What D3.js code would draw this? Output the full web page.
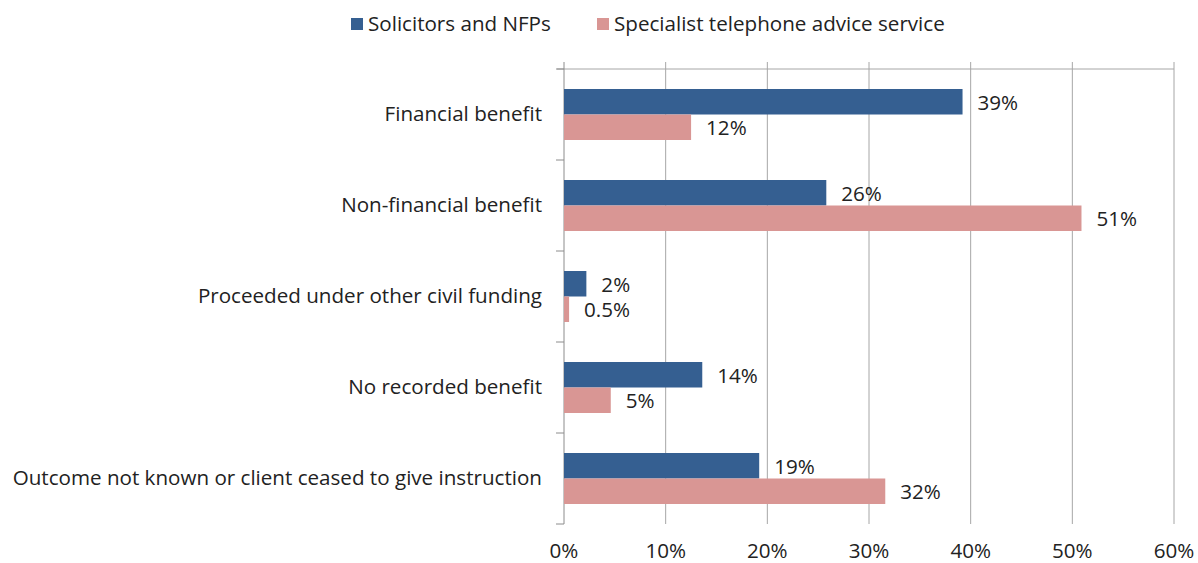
<!DOCTYPE html>
<html>
<head>
<meta charset="utf-8">
<script src="https://cdn.jsdelivr.net/npm/d3@7"></script>
<style>
  body { margin: 0; background: #fff; }
  svg text { font-family: "Open Sans", sans-serif; fill: #222; }
</style>
</head>
<body>
<svg id="chart" width="1198" height="563"></svg>
<script>
var categories = [
  "Financial benefit",
  "Non-financial benefit",
  "Proceeded under other civil funding",
  "No recorded benefit",
  "Outcome not known or client ceased to give instruction"
];
var seriesNames = ["Solicitors and NFPs", "Specialist telephone advice service"];
var solicitors = [39.2, 25.8, 2.2, 13.6, 19.2];
var telephone = [12.5, 50.9, 0.5, 4.6, 31.6];
var solicitorsLabels = ["39%", "26%", "2%", "14%", "19%"];
var telephoneLabels = ["12%", "51%", "0.5%", "5%", "32%"];
var xTicks = [0, 10, 20, 30, 40, 50, 60];

var colors = ["#355f91", "#d99694"];
var fontSize = 20.6;

var svg = d3.select("#chart");
var plotLeft = 564, plotRight = 1174, plotTop = 69, plotBottom = 524;

var x = d3.scaleLinear().domain([0, 60]).range([plotLeft, plotRight]);
var y = d3.scaleBand().domain(categories).range([plotTop, plotBottom]);
var inner = d3.scaleBand().domain([0, 1]).range([0, 51]);

// gridlines
svg.append("g").selectAll("line")
  .data(xTicks.slice(1))
  .enter().append("line")
  .attr("x1", function (d) { return x(d); })
  .attr("x2", function (d) { return x(d); })
  .attr("y1", plotTop - 7).attr("y2", plotBottom)
  .attr("stroke", "#a6a6a6").attr("stroke-width", 1);

// top line
svg.append("line")
  .attr("x1", plotLeft - 7).attr("x2", plotRight)
  .attr("y1", plotTop).attr("y2", plotTop)
  .attr("stroke", "#a6a6a6");

// category axis
var yAxis = svg.append("g")
  .attr("transform", "translate(" + plotLeft + ",0)");
yAxis.append("line")
  .attr("x1", 0).attr("x2", 0).attr("y1", plotTop - 7).attr("y2", plotBottom)
  .attr("stroke", "#8c8c8c");
yAxis.selectAll(".tk")
  .data(d3.range(categories.length + 1))
  .enter().append("line")
  .attr("x1", -8).attr("x2", 0)
  .attr("y1", function (i) { return plotTop + i * y.step(); })
  .attr("y2", function (i) { return plotTop + i * y.step(); })
  .attr("stroke", "#8c8c8c");

svg.append("g").selectAll("text")
  .data(categories)
  .enter().append("text")
  .attr("x", plotLeft - 22)
  .attr("y", function (d) { return y(d) + y.bandwidth() / 2 - 1; })
  .attr("dy", "0.35em")
  .attr("text-anchor", "end")
  .style("font-size", fontSize + "px")
  .text(function (d) { return d; });

// x tick labels
svg.append("g").selectAll("text")
  .data(xTicks)
  .enter().append("text")
  .attr("x", function (d) { return x(d); })
  .attr("y", plotBottom + 27)
  .attr("dy", "0.35em")
  .attr("text-anchor", "middle")
  .style("font-size", fontSize + "px")
  .text(function (d) { return d + "%"; });

// bars
var series = [solicitors, telephone];
var labels = [solicitorsLabels, telephoneLabels];
series.forEach(function (vals, s) {
  var g = svg.append("g");
  var off = (y.bandwidth() - 51) / 2 + inner(s);
  g.selectAll("rect")
    .data(vals)
    .enter().append("rect")
    .attr("x", x(0))
    .attr("y", function (d, i) { return y(categories[i]) + off; })
    .attr("width", function (d) { return x(d) - x(0); })
    .attr("height", inner.bandwidth())
    .attr("fill", colors[s]);
  g.selectAll("text")
    .data(vals)
    .enter().append("text")
    .attr("x", function (d) { return x(d) + 15; })
    .attr("y", function (d, i) { return y(categories[i]) + off + inner.bandwidth() / 2 + 1; })
    .attr("dy", "0.35em")
    .style("font-size", fontSize + "px")
    .text(function (d, i) { return labels[s][i]; });
});

// legend
var legendX = [351, 597];
var legend = svg.append("g");
seriesNames.forEach(function (name, s) {
  legend.append("rect")
    .attr("x", legendX[s]).attr("y", 18)
    .attr("width", 12).attr("height", 12)
    .attr("fill", colors[s]);
  legend.append("text")
    .attr("x", legendX[s] + 17).attr("y", 24)
    .attr("dy", "0.35em")
    .style("font-size", fontSize + "px")
    .text(name);
});
</script>
</body>
</html>
